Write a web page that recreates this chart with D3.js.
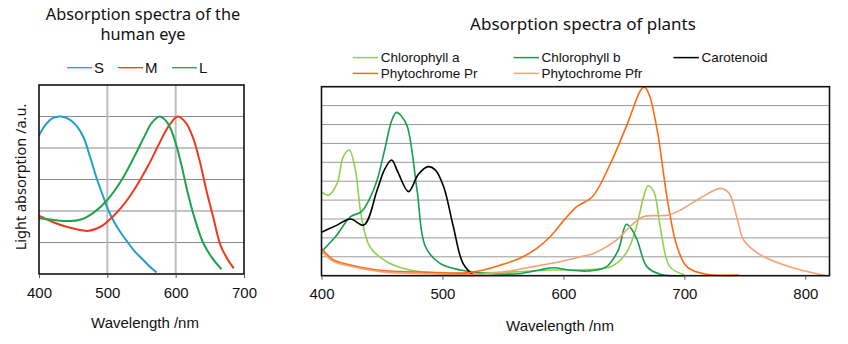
<!DOCTYPE html>
<html>
<head>
<meta charset="utf-8">
<script src="https://cdn.jsdelivr.net/npm/d3@7"></script>
<style>
  body { margin: 0; background: #fff; }
</style>
</head>
<body>
<svg id="chart" width="848" height="344"></svg>
<script>
// ---- human eye (cone cells) ----
const eyeTicks = [400, 500, 600, 700];
const eyeNames = ["S", "M", "L"];

const sWl  = [400, 410, 420, 433, 445, 455, 465, 475, 485, 495, 500, 510, 520, 530, 540, 550, 560, 572];
const sAbs = [4.4, 4.75, 4.95, 5.0, 4.9, 4.7, 4.35, 3.7, 3.0, 2.4, 2.1, 1.65, 1.3, 1.0, 0.72, 0.5, 0.28, 0.05];

const mWl  = [400, 420, 440, 460, 473, 490, 500, 520, 540, 560, 575, 590, 603, 615, 625, 635, 645, 655, 665, 675, 685];
const mAbs = [1.85, 1.65, 1.5, 1.4, 1.37, 1.5, 1.66, 2.1, 2.7, 3.45, 4.1, 4.7, 5.0, 4.8, 4.35, 3.6, 2.65, 1.8, 0.95, 0.5, 0.18];

const lWl  = [400, 420, 445, 460, 480, 500, 520, 540, 555, 565, 577, 588, 598, 608, 618, 628, 640, 652, 667];
const lAbs = [1.77, 1.72, 1.68, 1.72, 1.95, 2.35, 2.95, 3.75, 4.4, 4.8, 5.0, 4.8, 4.3, 3.5, 2.55, 1.75, 1.0, 0.55, 0.15];

// ---- plants ----
const plantTicks = [400, 500, 600, 700, 800];
const plantNames = ["Chlorophyll a", "Chlorophyll b", "Carotenoid", "Phytochrome Pr", "Phytochrome Pfr"];

const chlaWl  = [400, 406, 413, 418, 423, 428, 433, 440, 454, 473, 500, 530, 560, 590, 620, 640, 652, 660, 666, 670, 675, 680, 688, 700];
const chlaAbs = [4.44, 4.27, 4.9, 6.3, 6.65, 5.6, 3.12, 1.53, 0.74, 0.3, 0.12, 0.15, 0.2, 0.3, 0.32, 0.5, 1.2, 2.5, 4.1, 4.76, 4.4, 2.6, 0.48, 0.05];

const chlbWl  = [400, 412, 424, 433, 440, 446, 452, 458, 462, 466, 471, 479, 486, 498, 515, 540, 565, 580, 592, 605, 620, 635, 645, 652, 656, 661, 669, 680, 700];
const chlbAbs = [1.27, 2.1, 3.12, 3.39, 4.1, 5.06, 6.6, 8.2, 8.64, 8.45, 7.88, 4.53, 1.53, 0.65, 0.3, 0.1, 0.12, 0.3, 0.42, 0.3, 0.25, 0.45, 1.3, 2.72, 2.5, 1.89, 0.48, 0.08, 0];

const caroWl  = [400, 412, 424, 435, 446, 452, 458, 463, 472, 480, 488, 494, 501, 509, 517, 526];
const caroAbs = [2.3, 2.65, 3.0, 2.68, 4.53, 5.6, 6.12, 5.5, 4.45, 5.35, 5.77, 5.6, 4.71, 2.59, 0.65, 0];

const prWl  = [400, 410, 424, 451, 491, 520, 534, 550, 564, 578, 589, 600, 611, 624, 639, 653, 664, 667, 671, 678, 686, 694, 702, 716, 745];
const prAbs = [1.45, 0.83, 0.57, 0.27, 0.18, 0.15, 0.3, 0.6, 0.92, 1.45, 2.06, 2.9, 3.65, 4.18, 5.95, 8.06, 9.83, 9.97, 9.56, 7.53, 4.0, 1.53, 0.48, 0.1, 0.03];

const pfrWl  = [400, 410, 424, 451, 491, 520, 550, 575, 597, 614, 625, 644, 655, 666, 686, 697, 713, 730, 737, 744, 749, 763, 791, 818];
const pfrAbs = [1.3, 0.75, 0.5, 0.2, 0.1, 0.05, 0.2, 0.48, 0.74, 1.0, 1.18, 1.89, 2.59, 3.12, 3.2, 3.48, 4.1, 4.62, 4.36, 2.95, 1.89, 1.1, 0.39, 0];

const eyeSeries = [
  { name: "S", wl: sWl, v: sAbs, color: "#1f9fd0" },
  { name: "M", wl: mWl, v: mAbs, color: "#ec3a1d" },
  { name: "L", wl: lWl, v: lAbs, color: "#1ea34c" }
];
const plantSeries = [
  { name: plantNames[0], wl: chlaWl, v: chlaAbs, color: "#92d050" },
  { name: plantNames[1], wl: chlbWl, v: chlbAbs, color: "#14a04a" },
  { name: plantNames[2], wl: caroWl, v: caroAbs, color: "#000000" },
  { name: plantNames[3], wl: prWl, v: prAbs, color: "#ff6a10" },
  { name: plantNames[4], wl: pfrWl, v: pfrAbs, color: "#f6a274" }
];

const svg = d3.select("#chart");
const arial = "Liberation Sans, Arial, sans-serif";
const ui = "Noto Sans, Open Sans, sans-serif";

function drawPanel(opts) {
  const x = d3.scaleLinear().domain(opts.xDomain).range(opts.xRange);
  const y = d3.scaleLinear().domain(opts.yDomain).range(opts.yRange);
  const g = svg.append("g");

  // horizontal grid
  g.selectAll("line.hgrid")
    .data(d3.range(opts.yDomain[0] + 1, opts.yDomain[1]))
    .enter().append("line")
      .attr("x1", opts.xRange[0]).attr("x2", opts.xRange[1])
      .attr("y1", d => y(d)).attr("y2", d => y(d))
      .attr("stroke", opts.hgridColor)
      .attr("stroke-width", 1);

  // vertical grid (eye chart only)
  g.selectAll("line.vgrid")
    .data(opts.vgrid)
    .enter().append("line")
      .attr("x1", d => x(d)).attr("x2", d => x(d))
      .attr("y1", opts.yRange[0]).attr("y2", opts.yRange[1])
      .attr("stroke", "#bdbdbd")
      .attr("stroke-width", 2);

  const line = d3.line()
    .x(d => x(d[0]))
    .y(d => y(d[1]))
    .curve(d3.curveCatmullRom.alpha(0.5));

  g.selectAll("path.series")
    .data(opts.series)
    .enter().append("path")
      .attr("fill", "none")
      .attr("stroke", d => d.color)
      .attr("stroke-width", opts.lineWidth)
      .attr("d", d => line(d.wl.map((w, i) => [w, d.v[i]])));

  // frame
  g.append("rect")
    .attr("x", opts.xRange[0]).attr("y", opts.yRange[1])
    .attr("width", opts.xRange[1] - opts.xRange[0])
    .attr("height", opts.yRange[0] - opts.yRange[1])
    .attr("fill", "none")
    .attr("stroke", "#111")
    .attr("stroke-width", 1.6);

  // x axis
  const axis = g.append("g")
    .attr("transform", `translate(0,${opts.yRange[0]})`)
    .call(d3.axisBottom(x).tickValues(opts.ticks).tickSize(4).tickPadding(9).tickFormat(d3.format("d")));
  axis.select(".domain").remove();
  axis.selectAll("line").attr("stroke", "#555");
  axis.selectAll("text")
    .attr("font-family", arial)
    .attr("font-size", "15px")
    .attr("fill", "#111");

  g.append("text")
    .attr("x", opts.xLabelPos[0]).attr("y", opts.xLabelPos[1])
    .attr("text-anchor", "middle")
    .attr("dy", "0.35em")
    .attr("font-family", arial)
    .attr("font-size", "15px")
    .attr("fill", "#111")
    .text("Wavelength /nm");

  return { x, y, g };
}

// ---- left panel ----
drawPanel({
  xDomain: [400, 700], xRange: [39, 244],
  yDomain: [0, 6], yRange: [274, 85],
  hgridColor: "#8a8a8a", vgrid: [500, 600],
  series: eyeSeries, lineWidth: 2,
  ticks: eyeTicks, xLabelPos: [145, 323]
});

const eyeTitle = svg.append("text")
  .attr("x", 143).attr("y", 20)
  .attr("text-anchor", "middle")
  .attr("font-family", ui).attr("font-size", "16.3px").attr("fill", "#111");
eyeTitle.append("tspan").attr("x", 143).text("Absorption spectra of the");
eyeTitle.append("tspan").attr("x", 143).attr("dy", 20).text("human eye");

svg.append("text")
  .attr("transform", "translate(20.5,177) rotate(-90)")
  .attr("dy", "0.35em")
  .attr("text-anchor", "middle")
  .attr("font-family", ui).attr("font-size", "14.5px").attr("fill", "#111")
  .text("Light absorption /a.u.");

const eyeLegX = [67, 118, 172];
const eyeLeg = svg.append("g").selectAll("g")
  .data(eyeSeries)
  .enter().append("g")
    .attr("transform", (d, i) => `translate(${eyeLegX[i]},67.7)`);
eyeLeg.append("line")
  .attr("x1", 0).attr("x2", 25)
  .attr("stroke", d => d.color).attr("stroke-width", 1.3);
eyeLeg.append("text")
  .attr("x", 27).attr("dy", "0.35em")
  .attr("font-family", arial).attr("font-size", "15px").attr("fill", "#111")
  .text(d => d.name);

// ---- right panel ----
drawPanel({
  xDomain: [400, 820], xRange: [321.5, 829.5],
  yDomain: [0, 10], yRange: [275.7, 86.7],
  hgridColor: "#999999", vgrid: [],
  series: plantSeries, lineWidth: 1.6,
  ticks: plantTicks, xLabelPos: [560, 326]
});

svg.append("text")
  .attr("x", 583).attr("y", 24.5).attr("dy", "0.35em")
  .attr("text-anchor", "middle")
  .attr("font-family", ui).attr("font-size", "17px").attr("fill", "#111")
  .text("Absorption spectra of plants");

const plantLegPos = [[352.7, 57.6], [513.6, 57.6], [673.4, 57.6], [352.7, 73.4], [513.6, 73.4]];
const plantLeg = svg.append("g").selectAll("g")
  .data(plantSeries)
  .enter().append("g")
    .attr("transform", (d, i) => `translate(${plantLegPos[i][0]},${plantLegPos[i][1]})`);
plantLeg.append("line")
  .attr("x1", 0).attr("x2", 25.5)
  .attr("stroke", d => d.color).attr("stroke-width", 1.5);
plantLeg.append("text")
  .attr("x", 28).attr("dy", "0.35em")
  .attr("font-family", arial).attr("font-size", "13.5px").attr("fill", "#111")
  .text(d => d.name);
</script>
</body>
</html>
